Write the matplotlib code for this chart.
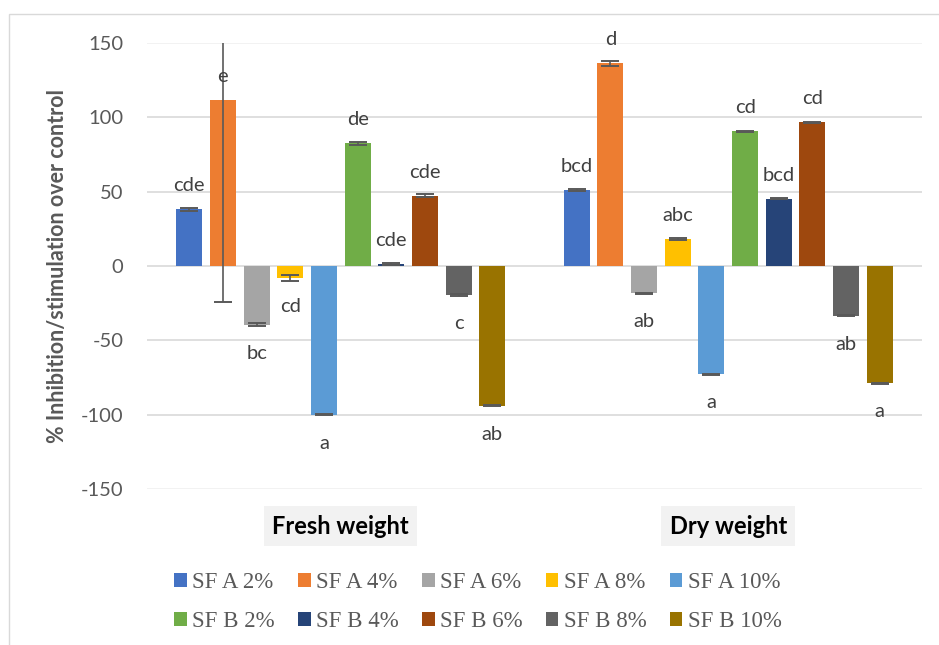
import matplotlib
matplotlib.use("Agg")
import matplotlib.pyplot as plt
import numpy as np
from matplotlib.patches import Patch, Rectangle

groups = ["Fresh weight", "Dry weight"]
series = ["SF A 2%", "SF A 4%", "SF A 6%", "SF A 8%", "SF A 10%",
          "SF B 2%", "SF B 4%", "SF B 6%", "SF B 8%", "SF B 10%"]
colors = ["#4472C4", "#ED7D31", "#A5A5A5", "#FFC000", "#5B9BD5",
          "#70AD47", "#264478", "#9E480E", "#636363", "#997300"]

fresh = [38.3, 111.6, -39.5, -8.3, -100.0, 82.5, 1.5, 47.1, -19.5, -93.9]
dry = [51.1, 136.3, -18.4, 18.0, -72.9, 90.6, 45.3, 96.6, -33.4, -78.9]
fresh_err = [1.0, 136.0, 1.0, 2.0, 0.5, 1.0, 0.5, 1.0, 1.0, 0.5]
dry_err = [0.5, 1.5, 0.5, 0.5, 0.5, 0.5, 0.5, 0.5, 0.5, 0.5]
fresh_letters = ["cde", "e", "bc", "cd", "a", "de", "cde", "cde", "c", "ab"]
dry_letters = ["bcd", "d", "ab", "abc", "a", "cd", "bcd", "cd", "ab", "a"]

plt.rcParams["font.family"] = ["Lato", "DejaVu Sans"]
plt.rcParams["axes.unicode_minus"] = False

fig = plt.figure(figsize=(9.39, 6.45), dpi=100)
ax = fig.add_axes([147 / 939, 156 / 645, 775 / 939, 446 / 645])

# gridlines (Excel style)
for y in [-100, -50, 0, 50, 100]:
    ax.axhline(y, color="#d9d9d9", lw=1.2, zorder=1)
for y in [-150, 150]:
    ax.axhline(y, color="#f0f0f0", lw=1.2, zorder=1)

slot = 0.0869
width = 0.067
xg = np.arange(len(groups))
for i, name in enumerate(series):
    xs = xg + (i - 4.5) * slot
    vals = [fresh[i], dry[i]]
    errs = [fresh_err[i], dry_err[i]]
    ax.bar(xs, vals, width, color=colors[i], label=name, zorder=2)
    ax.errorbar(xs, vals, yerr=errs, fmt="none", ecolor="#595959",
                elinewidth=1.2, capsize=6.5, capthick=1.4, zorder=3)
    for x, v, lab in zip(xs, vals, [fresh_letters[i], dry_letters[i]]):
        off = 17 if v >= 0 else -20.5
        ax.annotate(lab, (x, v), xytext=(0, off), textcoords="offset points",
                    ha="center", va="center", fontsize=14.5, color="#404040",
                    zorder=4)

ax.set_xlim(-0.5, 1.5)
ax.set_ylim(-150, 150)
ax.set_yticks([-150, -100, -50, 0, 50, 100, 150])
ax.set_xticks([])
ax.tick_params(axis="y", length=0, pad=17, labelsize=14.5, labelcolor="#595959")
for s in ax.spines.values():
    s.set_visible(False)

# category labels
for g, name in zip(xg, groups):
    ax.text(g, -175, name, ha="center", va="center", fontsize=17,
            fontweight="bold", color="black", clip_on=False,
            bbox=dict(facecolor="#f2f2f2", edgecolor="none", pad=6))

fig.text(58 / 939, 1 - 266 / 645, "% Inhibition/stimulation over control",
         rotation=90, ha="center", va="center", fontsize=15.5,
         fontweight="bold", color="#595959")

# legend, row by row
order = [0, 5, 1, 6, 2, 7, 3, 8, 4, 9]
handles = [Patch(facecolor=colors[k], edgecolor="none") for k in order]
labels = [series[k] for k in order]
fig.legend(handles, labels, ncol=5, loc="center",
           bbox_to_anchor=(478 / 939, 1 - 602 / 645), frameon=False,
           prop=dict(family="Liberation Serif", size=16.5),
           labelcolor="#595959", handlelength=0.55, handleheight=0.55,
           handletextpad=0.25, columnspacing=1.0, labelspacing=0.8)

fig.patches.append(Rectangle((9 / 939, -0.1), 1.2, 1.1 - 14 / 645,
                             transform=fig.transFigure, fill=False,
                             edgecolor="#d9d9d9", lw=1))

fig.savefig("out.png", dpi=100)
